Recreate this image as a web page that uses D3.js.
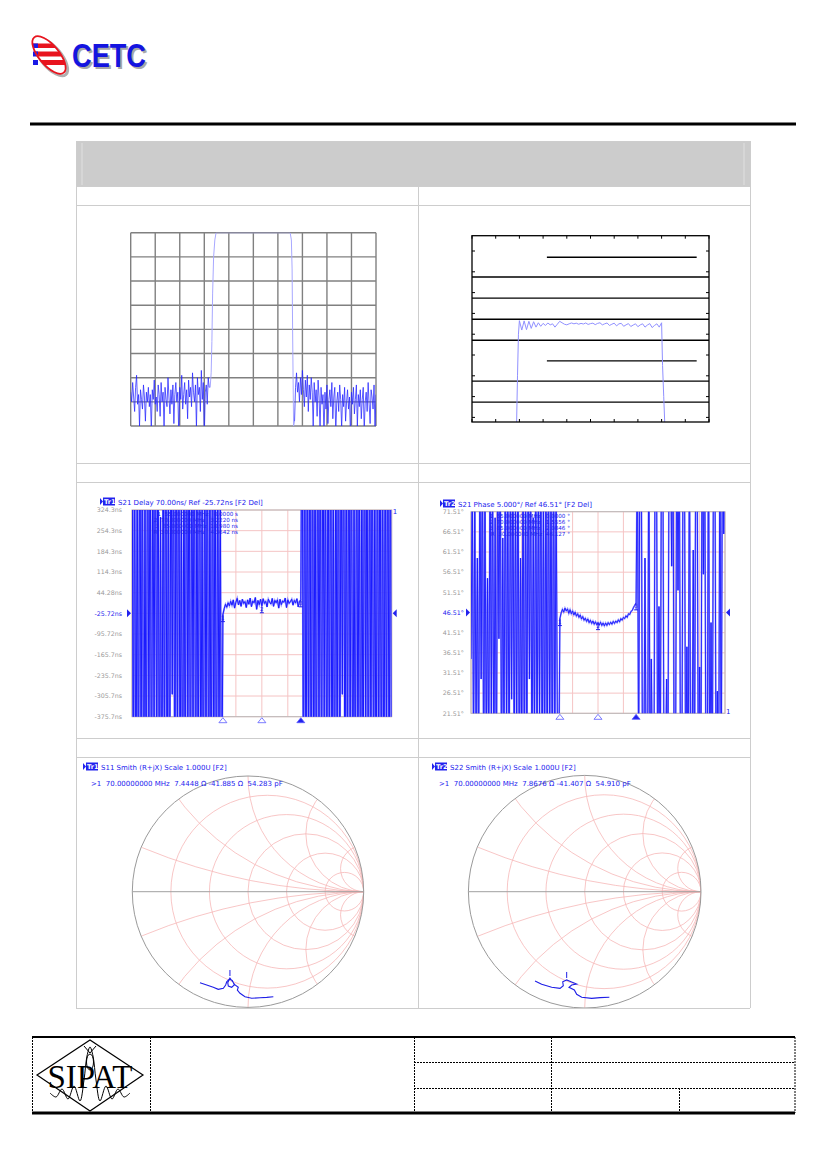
<!DOCTYPE html>
<html>
<head>
<meta charset="utf-8">
<script src="https://cdn.jsdelivr.net/npm/d3@7"></script>
<style>
  body { margin: 0; background: #fff; }
  svg { display: block; }
</style>
</head>
<body>
<div id="sheet"></div>
<script>
// ---------- wideband S21 amplitude (dB), 20-120 MHz ----------
const ampTicksX = [20, 30, 40, 50, 60, 70, 80, 90, 100, 110, 120];
const ampTicksY = [0, -10, -20, -30, -40, -50, -60, -70, -80];
const ampStep = 0.4;
const ampNoiseLoStart = 20;
const ampNoiseLo = [
  -66,-70,-62,-68,-74,-64,-59,-71,-67,-80,-65,-69,-73,-63,-68,-78,-66,-70,-64,-72,
  -67,-82,-65,-69,-61,-71,-68,-74,-63,-67,-76,-62,-70,-66,-81,-64,-69,-72,-60,-68,
  -75,-65,-71,-63,-79,-67,-62,-70,-66,-84,-64,-69,-59,-73,-67,-62,-71,-65,-77,-61,
  -68,-64,-72,-58,-66,-70,-63,-81,-60,-67,-64,-74,-57,-69,-62,-85,-66,-63,-71,-60,-64
];
const ampNoiseHiStart = 86.8;
const ampNoiseHi = [
  -78,-64,-58,-66,-62,-70,-60,-67,-57,-65,-72,-61,-68,-59,-74,-63,-69,-60,-66,-80,
  -62,-70,-65,-76,-61,-68,-82,-64,-71,-67,-84,-66,-73,-63,-79,-69,-65,-72,-62,-77,
  -68,-64,-83,-70,-66,-74,-63,-69,-81,-67,-72,-64,-78,-70,-65,-73,-68,-85,-66,-71,
  -64,-75,-69,-63,-80,-67,-72,-65,-77,-69,-64,-82,-70,-66,-74,-62,-71,-79,-65,-68,
  -73,-63,-81,-67
];
const ampPassF  = [52.4, 52.8, 53.1, 53.4, 53.8, 54.3, 54.8, 85.0, 85.5, 85.8, 86.0, 86.2, 86.4];
const ampPassDb = [-64, -58, -45, -25, -10, -3, 0, 0, -3, -15, -40, -60, -80];

// ---------- narrowband S21 amplitude with limit lines, 45-95 MHz ----------
const nbTicksX = [45, 50, 55, 60, 65, 70, 75, 80, 85, 90, 95];
const nbTicksY = [-1, -2, -3, -4, -5, -6, -7, -8, -9];
const nbLimitFull = [-2.25, -3.27, -4.28, -5.29, -7.26, -8.27];
const nbLimitShort = [-1.30, -6.28];
const nbLimitShortF = [60.8, 92.4];
const nbStart = 55, nbStep = 0.5;
const nbDb = [
  -4.35,-4.80,-4.36,-4.78,-4.38,-4.72,-4.40,-4.66,-4.45,-4.62,
  -4.48,-4.58,-4.46,-4.55,-4.50,-4.66,-4.52,-4.38,-4.45,-4.52,
  -4.55,-4.50,-4.46,-4.50,-4.47,-4.52,-4.48,-4.51,-4.46,-4.53,
  -4.49,-4.47,-4.54,-4.48,-4.45,-4.55,-4.50,-4.46,-4.58,-4.52,
  -4.47,-4.60,-4.50,-4.48,-4.62,-4.55,-4.49,-4.63,-4.56,-4.50,
  -4.64,-4.55,-4.50,-4.66,-4.56,-4.49,-4.68,-4.58,-4.50,-4.66,
  -4.45
];
const nbEdgeLoF = [54.4, 54.6, 54.8];
const nbEdgeLoDb = [-9.4, -7.0, -5.0];
const nbEdgeHiF = [85.2, 85.45, 85.7];
const nbEdgeHiDb = [-6.5, -8.0, -9.5];

// ---------- VNA sweep, 20-120 MHz, 201 points ----------
const vnaStart = 20, vnaStep = 0.5;
const vnaTicksX = [20, 30, 40, 50, 60, 70, 80, 90, 100, 110, 120];
const markerF = [55, 70, 85];

// group delay (ns)
const gdTicks = [324.3, 254.3, 184.3, 114.3, 44.28, -25.72, -95.72, -165.7, -235.7, -305.7, -375.7];
const gdLabels = ["324.3ns","254.3ns","184.3ns","114.3ns","44.28ns","-25.72ns","-95.72ns","-165.7ns","-235.7ns","-305.7ns","-375.7ns"];
const gdRef = -25.72;
const gdOobLo = [
  800,-700,650,-900,500,-800,900,-600,700,-950,400,-850,900,-500,750,-900,600,-400,850,-700,
  900,-800,300,-900,700,-650,950,-850,500,-900,800,-300,700,-900,850,-600,900,-750,400,-900,
  650,-850,900,-500,800,-950,700,-400,850,-900,600,-800,900,-700,350,-900,750,-600,900,-850,
  500,-900,800,-650,700,-900,600,-500,400,-900
];
const gdPass = [
  -30,-10,5,-5,10,0,15,2,20,-8,12,25,3,18,-2,22,8,14,-6,20,
  5,26,-3,16,10,28,-12,18,4,22,0,24,8,15,-4,22,12,6,25,-2,
  18,10,20,-8,22,4,16,12,26,-6,20,8,14,22,2,18,10,24,-4,15,20
];
const gdOobHi = [
  900,-800,850,-900,700,-600,900,-950,800,-700,650,-900,900,-500,750,-850,900,-400,600,-900,
  850,-700,900,-800,500,-900,750,-650,900,-850,700,-300,800,-900,650,-700,900,-550,850,-900,
  400,-800,900,-700,750,-900,600,-850,900,-450,700,-900,800,-600,900,-750,500,-900,850,-700,
  900,-800,650,-900,700,-600,900,-850,800,-900
];
const gdMarkText = ["1  55.000000 MHz   0.0000 s", "2  70.000000 MHz   3.2220 ns",
                    "3  85.000000 MHz  10.980 ns", "R  30.000000 MHz   4.3642 ns"];

// phase (deg)
const phTicks = [71.51, 66.51, 61.51, 56.51, 51.51, 46.51, 41.51, 36.51, 31.51, 26.51, 21.51];
const phLabels = ["71.51°","66.51°","61.51°","56.51°","51.51°","46.51°","41.51°","36.51°","31.51°","26.51°","21.51°"];
const phRef = 46.51;
const phOobLo = [
  35,80,10,75,15,60,5,85,30,90, 0,78,12,55,8,90,20,85,5,70,
  0,88,40,95,2,65,10,92,15,80, 0,86,25,90,5,75,18,95,0,60,
  12,88,3,80,10,92,30,85,0,70, 15,90,5,82,20,95,0,76,8,88,
  2,90,15,85,0,92,10,80,20,0
];
const phPass = [
  45.0,46.4,47.3,46.6,47.6,46.9,47.4,46.3,47.2,46.2,
  46.9,45.9,46.6,45.6,46.2,45.3,45.9,44.9,45.5,44.6,
  45.1,44.3,44.9,44.0,44.6,43.8,44.4,43.6,44.2,43.5,
  44.0,43.4,44.1,43.3,43.9,43.2,43.9,43.3,44.0,43.5,
  44.1,43.6,44.3,43.8,44.4,44.0,44.7,44.2,45.0,44.6,
  45.3,45.0,45.7,45.3,46.2,46.0,46.8,47.0,47.8,48.3,
  48.9
];
const phOobHi = [
  90,5,95,95,10,0,60,0,0,95, 0,35,0,0,95,95,0,48,0,95,
  95,0,0,30,0,95,98,58,98,0, 0,95,52,95,0,0,95,95,0,38,
  0,95,0,0,62,0,95,95,0,33, 0,95,56,95,0,0,95,0,44,0,
  95,95,0,27,0,95,0,95,66,95
];
const phMarkText = ["1  55.000000 MHz   0.0000 °", "2  70.000000 MHz   1.5556 °",
                    "3  85.000000 MHz   2.0846 °", "R  30.000000 MHz  46.127 °"];

// Smith charts: reflection coefficient (re, im)
const smithR = [0.2, 0.5, 1, 2, 5];
const smithX = [0.2, 0.5, 1, 2, 5];
const s11Re = [-0.415,-0.357,-0.300,-0.257,-0.213,-0.193,-0.184,-0.164,-0.136,-0.118,-0.141,-0.170,-0.175,-0.156,-0.112,-0.084,-0.092,-0.069,-0.026,0.032,0.104,0.162,0.219];
const s11Im = [-0.787,-0.806,-0.826,-0.844,-0.835,-0.806,-0.778,-0.757,-0.766,-0.806,-0.826,-0.815,-0.787,-0.746,-0.806,-0.826,-0.850,-0.878,-0.908,-0.921,-0.916,-0.913,-0.908];
const s22Re = [-0.427,-0.370,-0.284,-0.212,-0.184,-0.189,-0.155,-0.118,-0.069,-0.112,-0.135,-0.089,-0.069,-0.026,0.060,0.132,0.212];
const s22Im = [-0.768,-0.796,-0.822,-0.831,-0.808,-0.774,-0.759,-0.774,-0.794,-0.802,-0.822,-0.845,-0.882,-0.908,-0.917,-0.911,-0.908];

// ---------- page ----------
const svg = d3.select("#sheet").append("svg").attr("width", 826).attr("height", 1169);
const defs = svg.append("defs");
const mono = "DejaVu Sans";
const vnaBlue = "#2222ee";

const sweep = (start, step, vals) => vals.map((v, i) => [start + i * step, v]);
const clipRect = (id, x, y, w, h) =>
  defs.append("clipPath").attr("id", id).append("rect").attr("x", x).attr("y", y).attr("width", w).attr("height", h);

// CETC logo
defs.append("clipPath").attr("id", "ell")
  .append("ellipse").attr("cx", 49).attr("cy", 55).attr("rx", 23).attr("ry", 10)
  .attr("transform", "rotate(50,49,55)");
svg.append("ellipse").attr("cx", 51).attr("cy", 57).attr("rx", 23).attr("ry", 10)
  .attr("transform", "rotate(50,51,57)").attr("fill", "none").attr("stroke", "#b0b0b0").attr("stroke-width", 3);
svg.append("ellipse").attr("cx", 49).attr("cy", 55).attr("rx", 23).attr("ry", 10)
  .attr("transform", "rotate(50,49,55)").attr("fill", "#fff");
const stripes = [[43.5, 4.5], [51.5, 5], [60, 5]];
svg.append("g").attr("clip-path", "url(#ell)").selectAll("rect").data(stripes).join("rect")
  .attr("x", 28).attr("y", d => d[0]).attr("width", 44).attr("height", d => d[1]).attr("fill", "#e8141e");
svg.append("g").selectAll("rect").data(stripes).join("rect")
  .attr("x", 33).attr("y", d => d[0]).attr("width", 5).attr("height", d => d[1]).attr("fill", "#1a1ae6");
svg.append("ellipse").attr("cx", 49).attr("cy", 55).attr("rx", 23).attr("ry", 10)
  .attr("transform", "rotate(50,49,55)").attr("fill", "none").attr("stroke", "#e8141e").attr("stroke-width", 1.8);
svg.append("text").attr("x", 74).attr("y", 69).text("CETC")
  .attr("font-family", "Liberation Sans").attr("font-weight", "bold").attr("font-size", 33)
  .attr("textLength", 74).attr("lengthAdjust", "spacingAndGlyphs").attr("fill", "#a8a8a8");
svg.append("text").attr("x", 72).attr("y", 67).text("CETC")
  .attr("font-family", "Liberation Sans").attr("font-weight", "bold").attr("font-size", 33)
  .attr("textLength", 74).attr("lengthAdjust", "spacingAndGlyphs").attr("fill", "#1414e0");

svg.append("rect").attr("x", 30).attr("y", 122.5).attr("width", 766).attr("height", 3).attr("fill", "#000");

// table frame
const tblLine = "#cdcdcd";
svg.append("rect").attr("x", 76).attr("y", 141).attr("width", 674).attr("height", 45).attr("fill", "#cccccc");
[82, 744].forEach(x => svg.append("line").attr("x1", x).attr("x2", x).attr("y1", 143).attr("y2", 185)
  .attr("stroke", "#e0e0e0"));
[141, 186, 205, 463, 482, 738, 757, 1008].forEach(y =>
  svg.append("line").attr("x1", 76).attr("x2", 750).attr("y1", y + 0.5).attr("y2", y + 0.5).attr("stroke", tblLine));
[76, 750].forEach(x =>
  svg.append("line").attr("x1", x + 0.5).attr("x2", x + 0.5).attr("y1", 141).attr("y2", 1008).attr("stroke", tblLine));
svg.append("line").attr("x1", 418.5).attr("x2", 418.5).attr("y1", 186).attr("y2", 1008).attr("stroke", tblLine);

// ---------- chart 1: wideband amplitude ----------
{
  const x = d3.scaleLinear().domain([20, 120]).range([130.7, 376]);
  const y = d3.scaleLinear().domain([0, -80]).range([232.7, 426]);
  clipRect("c1", 130.7, 232.7, 245.3, 193.3);
  const g = svg.append("g");
  g.selectAll("line.v").data(ampTicksX).join("line").attr("class", "v")
    .attr("x1", d => x(d)).attr("x2", d => x(d)).attr("y1", y(0)).attr("y2", y(-80))
    .attr("stroke", "#808080").attr("stroke-width", 1.4);
  g.selectAll("line.h").data(ampTicksY).join("line").attr("class", "h")
    .attr("x1", x(20)).attr("x2", x(120)).attr("y1", d => y(d)).attr("y2", d => y(d))
    .attr("stroke", "#808080").attr("stroke-width", 1.4);
  const line = d3.line().x(d => x(d[0])).y(d => y(d[1]));
  const lo = sweep(ampNoiseLoStart, ampStep, ampNoiseLo);
  const hi = sweep(ampNoiseHiStart, ampStep, ampNoiseHi);
  const pass = d3.zip(ampPassF, ampPassDb);
  const t = g.append("g").attr("clip-path", "url(#c1)");
  t.append("path").attr("d", line(lo.slice(-1).concat(pass, hi.slice(0, 1))))
    .attr("fill", "none").attr("stroke", "#a8a8ff").attr("stroke-width", 1);
  t.append("path").attr("d", line(lo)).attr("fill", "none").attr("stroke", "#2828ff")
    .attr("stroke-width", 0.9).attr("opacity", 0.85);
  t.append("path").attr("d", line(hi)).attr("fill", "none").attr("stroke", "#2828ff")
    .attr("stroke-width", 0.9).attr("opacity", 0.85);
}

// ---------- chart 2: narrowband amplitude with limits ----------
{
  const x = d3.scaleLinear().domain([45, 95]).range([472, 709]);
  const y = d3.scaleLinear().domain([-0.264, -9.221]).range([235.7, 422]);
  clipRect("c2", 472, 235.7, 237, 186.3);
  const g = svg.append("g");
  g.selectAll("line.lf").data(nbLimitFull).join("line").attr("class", "lf")
    .attr("x1", x(45)).attr("x2", x(95)).attr("y1", d => y(d)).attr("y2", d => y(d))
    .attr("stroke", "#000").attr("stroke-width", 1.3);
  g.selectAll("line.ls").data(nbLimitShort).join("line").attr("class", "ls")
    .attr("x1", x(nbLimitShortF[0])).attr("x2", x(nbLimitShortF[1])).attr("y1", d => y(d)).attr("y2", d => y(d))
    .attr("stroke", "#000").attr("stroke-width", 1.3);
  const ticks = g.append("g").attr("stroke", "#000").attr("stroke-width", 1);
  nbTicksX.forEach(v => {
    ticks.append("line").attr("x1", x(v)).attr("x2", x(v)).attr("y1", y.range()[0]).attr("y2", y.range()[0] + 3);
    ticks.append("line").attr("x1", x(v)).attr("x2", x(v)).attr("y1", y.range()[1]).attr("y2", y.range()[1] - 3);
  });
  nbTicksY.forEach(v => {
    ticks.append("line").attr("x1", x(45)).attr("x2", x(45) + 3).attr("y1", y(v)).attr("y2", y(v));
    ticks.append("line").attr("x1", x(95)).attr("x2", x(95) - 3).attr("y1", y(v)).attr("y2", y(v));
  });
  const line = d3.line().x(d => x(d[0])).y(d => y(d[1]));
  const pts = d3.zip(nbEdgeLoF, nbEdgeLoDb).concat(sweep(nbStart, nbStep, nbDb), d3.zip(nbEdgeHiF, nbEdgeHiDb));
  g.append("path").attr("clip-path", "url(#c2)").attr("d", line(pts))
    .attr("fill", "none").attr("stroke", "#9090ff").attr("stroke-width", 1);
  g.append("rect").attr("x", 472).attr("y", 235.7).attr("width", 237).attr("height", 186.3)
    .attr("fill", "none").attr("stroke", "#000").attr("stroke-width", 1.3);
}

// ---------- VNA rectangular plot ----------
function vnaHeader(x0, yb, tr, text) {
  svg.append("path").attr("d", `M${x0},${yb - 7}L${x0 + 3},${yb - 3.5}L${x0},${yb}Z`).attr("fill", vnaBlue);
  svg.append("rect").attr("x", x0 + 3).attr("y", yb - 7.5).attr("width", 12).attr("height", 8).attr("fill", vnaBlue);
  svg.append("text").attr("x", x0 + 4).attr("y", yb - 1).text(tr).attr("font-family", mono)
    .attr("font-size", 6.5).attr("font-weight", "bold").attr("fill", "#fff");
  svg.append("text").attr("x", x0 + 18).attr("y", yb).text(text).attr("font-family", mono)
    .attr("font-size", 7).attr("fill", vnaBlue).style("white-space", "pre");
}

function vnaPlot(o) {
  const x = d3.scaleLinear().domain([20, 120]).range([o.left, o.right]);
  const y = d3.scaleLinear().domain([o.ticks[o.ticks.length - 1], o.ticks[0]]).range([o.bottom, o.top]);
  clipRect(o.id, o.left, o.top, o.right - o.left, o.bottom - o.top);
  const g = svg.append("g");
  g.selectAll("line.v").data(vnaTicksX).join("line").attr("class", "v")
    .attr("x1", d => x(d)).attr("x2", d => x(d)).attr("y1", o.top).attr("y2", o.bottom)
    .attr("stroke", "#f5c4c4").attr("stroke-width", 1);
  g.selectAll("line.h").data(o.ticks).join("line").attr("class", "h")
    .attr("x1", o.left).attr("x2", o.right).attr("y1", d => y(d)).attr("y2", d => y(d))
    .attr("stroke", "#f5c4c4").attr("stroke-width", 1);
  g.append("rect").attr("x", o.left).attr("y", o.top).attr("width", o.right - o.left).attr("height", o.bottom - o.top)
    .attr("fill", "none").attr("stroke", "#b8b8b8");
  g.selectAll("text.yl").data(o.ticks).join("text").attr("class", "yl")
    .attr("x", o.labelX).attr("y", d => y(d) + 2.3).attr("text-anchor", "end")
    .attr("font-family", mono).attr("font-size", 6.3)
    .attr("fill", d => d === o.ref ? vnaBlue : "#9a9a9a").text((d, i) => o.labels[i]);

  const line = d3.line().x(d => x(d[0])).y(d => y(d[1]));
  const all = sweep(vnaStart, vnaStep, o.lo.concat(o.pass, o.hi));
  const t = g.append("g").attr("clip-path", `url(#${o.id})`);
  t.append("path").attr("d", line(all)).attr("fill", "none").attr("stroke", "#7a7aff")
    .attr("stroke-width", o.width + 0.8).attr("opacity", 0.8);
  t.append("path").attr("d", line(all)).attr("fill", "none").attr("stroke", "#1a1aff")
    .attr("stroke-width", o.width);

  // marker table text
  o.markText.forEach((s, i) => {
    g.append("text").attr("x", o.markX).attr("y", o.markY + i * 6).attr("text-anchor", "end")
      .attr("font-family", mono).attr("font-size", 5.6).attr("fill", vnaBlue).style("white-space", "pre").text(s);
  });

  // reference level pointers
  const yr = y(o.ref);
  g.append("path").attr("d", `M${o.left - 5},${yr - 4}L${o.left - 1},${yr}L${o.left - 5},${yr + 4}Z`).attr("fill", vnaBlue);
  g.append("path").attr("d", `M${o.right + 5},${yr - 4}L${o.right + 1},${yr}L${o.right + 5},${yr + 4}Z`).attr("fill", vnaBlue);

  // markers on trace and at the bottom
  const passPts = sweep(vnaStart + o.lo.length * vnaStep, vnaStep, o.pass);
  markerF.forEach((f, i) => {
    const p = passPts.find(d => Math.abs(d[0] - f) < 1e-6);
    const px = x(p[0]), py = y(p[1]);
    g.append("line").attr("x1", px).attr("x2", px).attr("y1", py).attr("y2", py + 7).attr("stroke", vnaBlue);
    g.append("line").attr("x1", px - 2).attr("x2", px + 2).attr("y1", py + 7).attr("y2", py + 7).attr("stroke", vnaBlue);
    g.append("text").attr("x", px - 1.8).attr("y", py + 5.5).text(i + 1).attr("font-family", mono)
      .attr("font-size", 5.5).attr("fill", vnaBlue);
    g.append("path").attr("d", `M${px},${o.bottom + 1}L${px - 4},${o.bottom + 6}L${px + 4},${o.bottom + 6}Z`)
      .attr("fill", i === 2 ? vnaBlue : "#fff").attr("stroke", "#5a5aff").attr("stroke-width", 0.8);
  });
  g.append("text").attr("x", o.right + 1).attr("y", o.oneY).text("1").attr("font-family", mono)
    .attr("font-size", 7).attr("fill", vnaBlue);
}

vnaHeader(100, 505, "Tr1", "S21 Delay 70.00ns/ Ref -25.72ns [F2 Del]");
vnaPlot({ id: "c3", left: 132, right: 391.7, top: 510, bottom: 716.7, ticks: gdTicks, labels: gdLabels,
  ref: gdRef, labelX: 122, lo: gdOobLo, pass: gdPass, hi: gdOobHi, markText: gdMarkText,
  markX: 238, markY: 516, oneY: 514, width: 1.0 });

vnaHeader(440, 507, "Tr2", "S21 Phase 5.000°/ Ref 46.51° [F2 Del]");
vnaPlot({ id: "c4", left: 471, right: 725, top: 511.7, bottom: 713.3, ticks: phTicks, labels: phLabels,
  ref: phRef, labelX: 464, lo: phOobLo, pass: phPass, hi: phOobHi, markText: phMarkText,
  markX: 570, markY: 518, oneY: 714, width: 0.9 });

// ---------- Smith charts ----------
function smith(o) {
  const gx = d3.scaleLinear().domain([-1, 1]).range([o.cx - o.R, o.cx + o.R]);
  const gy = d3.scaleLinear().domain([-1, 1]).range([o.cy + o.R, o.cy - o.R]);
  const unit = gx(1) - gx(0);
  clipRect(o.id + "c", o.cell[0], o.cell[1], o.cell[2], o.cell[3]);
  defs.append("clipPath").attr("id", o.id + "u").append("circle")
    .attr("cx", gx(0)).attr("cy", gy(0)).attr("r", unit);
  const g = svg.append("g").attr("clip-path", `url(#${o.id}c)`);
  const grid = g.append("g").attr("clip-path", `url(#${o.id}u)`)
    .attr("fill", "none").attr("stroke", "#f6b8b8").attr("stroke-width", 0.8);
  grid.selectAll("circle.r").data(smithR).join("circle").attr("class", "r")
    .attr("cx", r => gx(r / (r + 1))).attr("cy", gy(0)).attr("r", r => unit / (r + 1));
  grid.selectAll("circle.x").data(smithX.flatMap(v => [v, -v])).join("circle").attr("class", "x")
    .attr("cx", gx(1)).attr("cy", v => gy(1 / v)).attr("r", v => unit / Math.abs(v));
  g.append("line").attr("x1", gx(-1)).attr("x2", gx(1)).attr("y1", gy(0)).attr("y2", gy(0))
    .attr("stroke", "#a0a0a0").attr("stroke-width", 1);
  g.append("circle").attr("cx", gx(0)).attr("cy", gy(0)).attr("r", unit)
    .attr("fill", "none").attr("stroke", "#9a9a9a").attr("stroke-width", 1);
  const line = d3.line().x(d => gx(d[0])).y(d => gy(d[1]));
  const pts = d3.zip(o.re, o.im);
  g.append("path").attr("d", line(pts)).attr("fill", "none").attr("stroke", "#1e1ee6").attr("stroke-width", 1.1);
  const m = pts[o.mark];
  g.append("line").attr("x1", gx(m[0])).attr("x2", gx(m[0])).attr("y1", gy(m[1]) - 2).attr("y2", gy(m[1]) - 8)
    .attr("stroke", "#1e1ee6");
  vnaHeader(o.hx, o.hy, o.tr, o.title);
  svg.append("text").attr("x", o.mx).attr("y", o.hy + 16).text(o.marker)
    .attr("font-family", mono).attr("font-size", 7).attr("fill", vnaBlue).style("white-space", "pre");
}

smith({ id: "s11", cx: 248, cy: 891.7, R: 115.7, cell: [77, 758, 341, 250], re: s11Re, im: s11Im, mark: 13,
  hx: 83, hy: 770, mx: 91, tr: "Tr1", title: "S11 Smith (R+jX) Scale 1.000U [F2]",
  marker: ">1  70.00000000 MHz  7.4448 Ω -41.885 Ω  54.283 pF" });
smith({ id: "s22", cx: 584.7, cy: 891.7, R: 116.3, cell: [419, 758, 331, 250], re: s22Re, im: s22Im, mark: 6,
  hx: 432, hy: 770, mx: 439, tr: "Tr2", title: "S22 Smith (R+jX) Scale 1.000U [F2]",
  marker: ">1  70.00000000 MHz  7.8676 Ω -41.407 Ω  54.910 pF" });

// ---------- footer ----------
{
  const f = svg.append("g").attr("stroke", "#000").attr("fill", "none");
  f.append("line").attr("x1", 32).attr("x2", 795).attr("y1", 1037).attr("y2", 1037).attr("stroke-width", 2);
  f.append("line").attr("x1", 32).attr("x2", 795).attr("y1", 1113).attr("y2", 1113).attr("stroke-width", 3);
  [32.5, 150.5, 414.5, 551.5, 795].forEach(x =>
    f.append("line").attr("x1", x).attr("x2", x).attr("y1", 1037).attr("y2", 1113).attr("stroke-width", 1)
      .attr("stroke-dasharray", "2,1"));
  [1062.5, 1088.5].forEach(y =>
    f.append("line").attr("x1", 414).attr("x2", 795).attr("y1", y).attr("y2", y).attr("stroke-width", 1)
      .attr("stroke-dasharray", "2,1"));
  f.append("line").attr("x1", 679.5).attr("x2", 679.5).attr("y1", 1088).attr("y2", 1113).attr("stroke-dasharray", "2,1");

  // SIPAT emblem
  f.append("path").attr("d", "M37,1075L90,1040L143,1075L90,1111Z").attr("stroke-width", 1.2);
  const wave = [[50,1093],[56,1097],[62,1089],[68,1099],[74,1086],[80,1101],[84,1080],[87,1056],[90,1047],
                [93,1056],[96,1080],[100,1101],[106,1086],[112,1099],[118,1089],[124,1097],[130,1093]];
  f.append("path").attr("d", d3.line().curve(d3.curveCatmullRom)(wave)).attr("stroke-width", 1);
  f.append("ellipse").attr("cx", 90).attr("cy", 1062).attr("rx", 3.5).attr("ry", 8).attr("stroke-width", 1);
  f.append("path").attr("d", "M84,1046L90,1053L96,1046").attr("stroke-width", 1);
  svg.append("text").attr("x", 90).attr("y", 1088).attr("text-anchor", "middle").text("SIPAT")
    .attr("font-family", "Liberation Serif").attr("font-size", 33).attr("fill", "#000");
}
</script>
</body>
</html>
